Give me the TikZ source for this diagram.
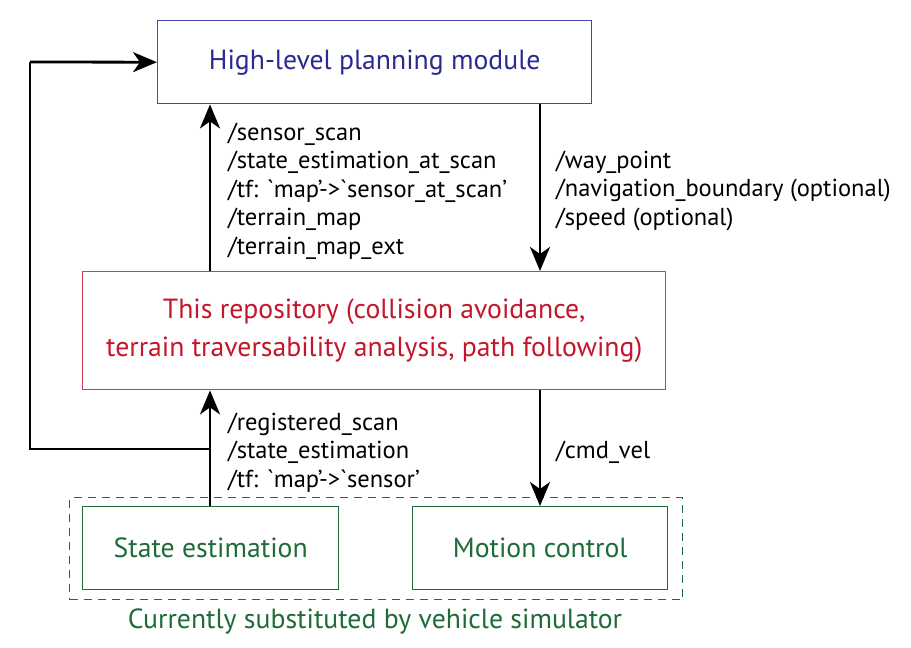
\documentclass[tikz,border=0pt]{standalone}
\usepackage{fontspec}
\setmainfont{PT Sans}
\usetikzlibrary{arrows.meta}
\definecolor{hlblue}{HTML}{2B2A8E}
\definecolor{hlbord}{HTML}{4545B0}
\definecolor{repred}{HTML}{C4162A}
\definecolor{repbord}{HTML}{D0404A}
\definecolor{simgreen}{HTML}{1F6B38}
\newcommand{\gravemark}{{\addfontfeature{Ligatures=TeXOff}\symbol{96}}}
\tikzset{
  box/.style={draw, line width=1.4pt, inner sep=0pt, anchor=north west},
  flow/.style={line width=2.8pt, -{Stealth[length=24pt,width=20pt,inset=7pt]}},
  loopline/.style={line width=2.8pt},
  lbl/.style={anchor=base west, inner sep=0pt, font=\fontsize{24.5}{28.5}\selectfont},
  big/.style={font=\fontsize{27.7}{38}\selectfont},
}
\begin{document}
\begin{tikzpicture}[x=1pt,y=-1pt]
\useasboundingbox (0,0) rectangle (911,648);
% boxes
\node[box, draw=hlbord, minimum width=434pt, minimum height=83pt] (hl) at (157,20) {};
\node[text=hlblue, big] (hltext) at (hl.center) {High-level planning module};
\node[box, draw=repbord, minimum width=583pt, minimum height=118pt] (rep) at (82,271) {};
\node[text=repred, align=center, big] (reptext) at (rep.center) {This repository (collision avoidance,\\terrain traversability analysis, path following)};
\node[box, draw=simgreen, dashed, dash pattern=on 8pt off 6pt, minimum width=613pt, minimum height=102pt] (sim) at (69,497) {};
\node[box, draw=simgreen, minimum width=256pt, minimum height=83pt] (se) at (82,506) {};
\node[text=simgreen, big] (setext) at (se.center) {State estimation};
\node[box, draw=simgreen, minimum width=255pt, minimum height=83pt] (mc) at (412,506) {};
\node[text=simgreen, big] (mctext) at (mc.center) {Motion control};
\node[text=simgreen, big] (cap) at (375,621) {Currently substituted by vehicle simulator};
% coordinates
\coordinate (upx) at (210,0);
\coordinate (dnx) at (540,0);
\coordinate (loopc) at (30,449);
\coordinate (loopt) at (30,62);
% arrows
\draw[flow] (se.north -| upx) -- (rep.south -| upx);
\draw[flow] (rep.north -| upx) -- (hl.south -| upx);
\draw[flow] (hl.south -| dnx) -- (rep.north -| dnx);
\draw[flow] (rep.south -| dnx) -- (mc.north -| dnx);
\draw[loopline] (loopc -| upx) -- (loopc) -- (loopt);
\draw[flow] (loopt) -- (hl.west);
% labels
\node[lbl] (l1a) at (228,140) {/sensor\_scan};
\node[lbl] (l1b) at (228,168.5) {/state\_estimation\_at\_scan};
\node[lbl] (l1c) at (228,197) {/tf: \gravemark map'->\gravemark sensor\_at\_scan'};
\node[lbl] (l1d) at (228,225.5) {/terrain\_map};
\node[lbl] (l1e) at (228,254) {/terrain\_map\_ext};
\node[lbl] (l2a) at (556,168) {/way\_point};
\node[lbl] (l2b) at (556,196.5) {/navigation\_boundary (optional)};
\node[lbl] (l2c) at (556,225) {/speed (optional)};
\node[lbl] (l3a) at (228,430) {/registered\_scan};
\node[lbl] (l3b) at (228,458.5) {/state\_estimation};
\node[lbl] (l3c) at (228,487) {/tf: \gravemark map'->\gravemark sensor'};
\node[lbl] (l4) at (556,458.5) {/cmd\_vel};
\end{tikzpicture}
\end{document}
